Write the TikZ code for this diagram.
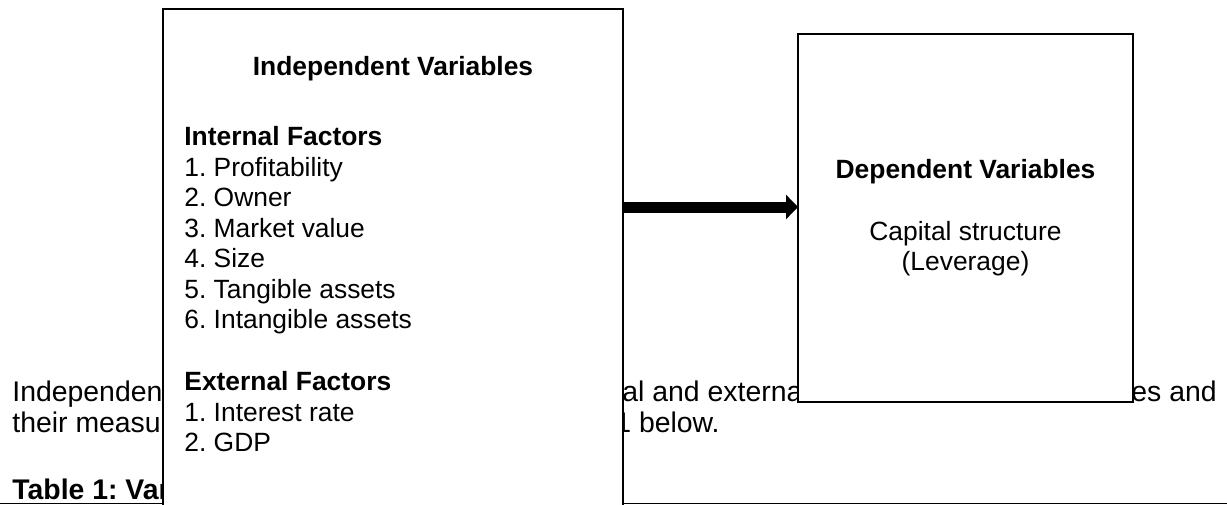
\documentclass[tikz,border=0pt]{standalone}
\usepackage{fontspec}
\setmainfont{Liberation Sans}
\usetikzlibrary{arrows.meta,positioning}
\newcommand{\docsize}{\fontsize{14.2pt}{15.5pt}\selectfont\frenchspacing}
\newcommand{\boxsize}{\fontsize{13.2pt}{15.25pt}\selectfont\frenchspacing}

\begin{document}
\begin{tikzpicture}[
  x=0.5pt, y=-0.5pt,
  bodytext/.style={anchor=base west, inner sep=0pt, font=\docsize},
  varbox/.style={rectangle, draw, line width=1.1pt, fill=white, inner sep=0pt, outer sep=0pt, anchor=north west},
  boxtext/.style={anchor=north west, align=left, inner sep=0pt, font=\boxsize},
  bigarrow/.style={-{Triangle[length=6pt,width=12pt]}, line width=5.5pt}
]
  \useasboundingbox (0,0) rectangle (1227,504);
  \clip (0,0) rectangle (1227,504);

  % page text behind the figure
  \node[bodytext] (par1a) at (12,401) {Independen};
  \node[bodytext] (par1b) at (622,401) {al and externa};
  \node[bodytext] (par1c) at (1131,401) {es and};
  \node[bodytext] (par2a) at (12,432) {their measu};
  \node[bodytext] (par2b) at (615,432) {1 below.};
  \node[bodytext, font=\docsize\bfseries] (tabcap) at (12,499) {Table 1: Var};
  \draw[line width=0.5pt] (0,503) -- (1227,503);

  % the two boxes
  \node[varbox, minimum width=230pt, minimum height=300pt] (indep) at (163,9) {};
  \node[varbox, minimum width=167.5pt, minimum height=184pt, align=center, font=\boxsize] (dep) at (798,34)
    {\textbf{Dependent Variables}\\[15.5pt]Capital structure\\(Leverage)};

  \node[font=\boxsize\bfseries, anchor=base, inner sep=0pt] (indeptitle) at (393,75) {Independent Variables};
  \node[boxtext] (internal) at (184,126)
    {\textbf{Internal Factors}\\1. Profitability\\2. Owner\\3. Market value\\4. Size\\5. Tangible assets\\6. Intangible assets};
  \node[boxtext] (external) at (184,371)
    {\textbf{External Factors}\\1. Interest rate\\2. GDP};

  \coordinate (arrowtip) at ([yshift=5.5pt]dep.west);
  \draw[bigarrow] (indep.east |- arrowtip) -- (arrowtip);
\end{tikzpicture}
\end{document}
